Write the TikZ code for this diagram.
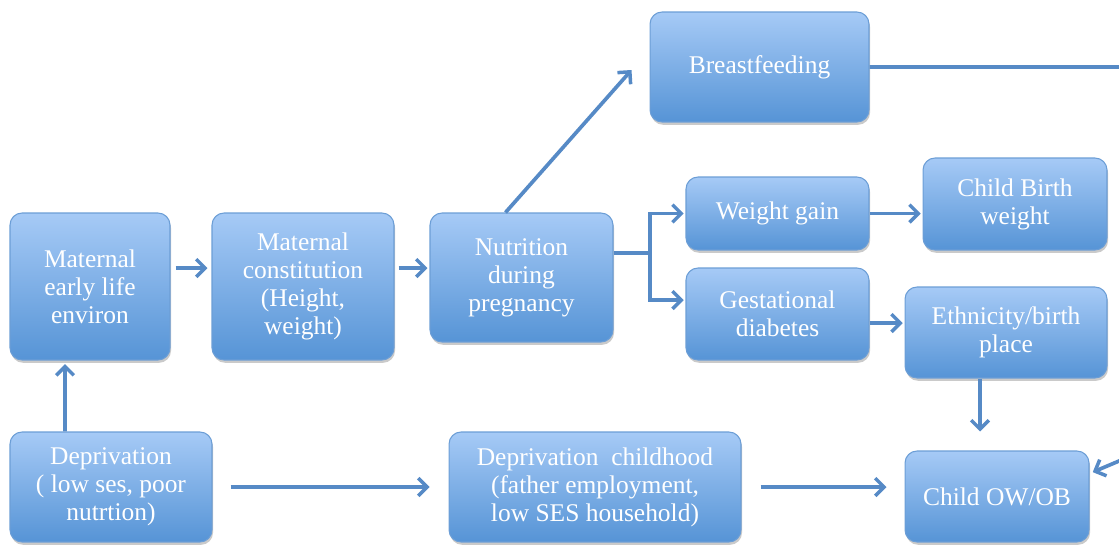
\documentclass[tikz,border=0pt]{standalone}
\usepackage{fontspec}
\setmainfont{Liberation Serif}
\usetikzlibrary{arrows.meta,shadows,calc}
\definecolor{boxtop}{RGB}{166,202,246}
\definecolor{boxbot}{RGB}{86,148,214}
\definecolor{boxline}{RGB}{108,158,214}
\definecolor{arrc}{RGB}{86,138,198}
\tikzset{
  box/.style={draw=boxline, line width=0.6pt, rounded corners=0.24cm,
    top color=boxtop, bottom color=boxbot, text=white, align=center,
    inner sep=2pt, font=\fontsize{14.5}{16}\selectfont,
    drop shadow={shadow xshift=0.6pt, shadow yshift=-1.6pt, opacity=0.35, fill=black!60}},
  arr/.style={draw=arrc, line width=2.1pt, -{Straight Barb[length=5pt,width=10pt,line width=2pt]}},
  ln/.style={draw=arrc, line width=2.1pt}
}
\begin{document}
\begin{tikzpicture}[x=0.02cm,y=-0.02cm]
\useasboundingbox (0,0) rectangle (1119,548);
\clip (0,0) rectangle (1119,548);
\node[box, minimum width=3.2cm, minimum height=2.94cm] (me) at (90,286.5) {Maternal\\early life\\environ};
\node[box, minimum width=3.64cm, minimum height=2.94cm] (mc) at (303,286.5) {Maternal\\constitution\\(Height,\\weight)};
\node[box, minimum width=3.66cm, minimum height=2.58cm] (np) at (521.5,277.5) {Nutrition\\during\\pregnancy};
\node[box, minimum width=4.38cm, minimum height=2.2cm] (bf) at (759.5,67) {Breastfeeding};
\node[box, minimum width=3.66cm, minimum height=1.46cm] (wg) at (777.5,213.5) {Weight gain};
\node[box, minimum width=3.68cm, minimum height=1.84cm] (cbw) at (1015,204) {Child Birth\\weight};
\node[box, minimum width=3.66cm, minimum height=1.84cm] (gd) at (777.5,314) {Gestational\\diabetes};
\node[box, minimum width=4.04cm, minimum height=1.82cm] (eth) at (1006,332.5) {Ethnicity/birth\\place};
\node[box, minimum width=3.68cm, minimum height=1.82cm] (oob) at (997,496.5) {Child OW/OB};
\node[box, minimum width=4.04cm, minimum height=2.2cm] (dep) at (111,487) {Deprivation\\( low ses, poor\\nutrtion)};
\node[box, minimum width=5.84cm, minimum height=2.2cm] (dc) at (595,487) {Deprivation\ \ childhood\\(father employment,\\low SES household)};
\coordinate (br) at (650,253);
\coordinate (bfr) at (1145,67);
\coordinate (bfd) at (1145,450);
% connectors
\draw[arr, shorten >=2pt] ([xshift=-0.92cm]dep.north) -- ([xshift=-0.5cm]me.south);
\draw[arr, shorten <=0.1cm, shorten >=0.08cm] ([yshift=0.37cm]me.east) -- ([yshift=0.37cm]me.east -| mc.west);
\draw[arr, shorten <=0.08cm, shorten >=0.04cm] ([yshift=0.37cm]mc.east) -- ([yshift=0.37cm]mc.east -| np.west);
\draw[arr] ([xshift=-0.32cm]np.north) -- ([xshift=-0.36cm,yshift=-0.06cm]bf.west);
\draw[ln] (np.east |- br) -- (br);
\draw[arr, shorten >=1pt] (br) |- (wg.west);
\draw[arr, shorten >=1pt] (br) |- ([yshift=0.28cm]gd.west);
\draw[arr, shorten >=1pt] (wg.east) -- (wg.east -| cbw.west);
\draw[arr, shorten >=1pt] ([yshift=-0.18cm]gd.east) -- ([yshift=-0.18cm]gd.east -| eth.west);
\draw[arr, shorten >=0.38cm] ([xshift=-0.52cm]eth.south) -- ([xshift=-0.52cm]eth.south |- oob.north);
\draw[arr, shorten <=0.36cm, shorten >=0.38cm] (dep.east) -- (dc.west);
\draw[arr, shorten <=0.38cm, shorten >=0.36cm] (dc.east) -- (dc.east -| oob.west);
\draw[arr, shorten >=2pt] (bf.east) -- (bfr) -- (bfd) -- ([yshift=0.46cm]oob.east);
\end{tikzpicture}
\end{document}
